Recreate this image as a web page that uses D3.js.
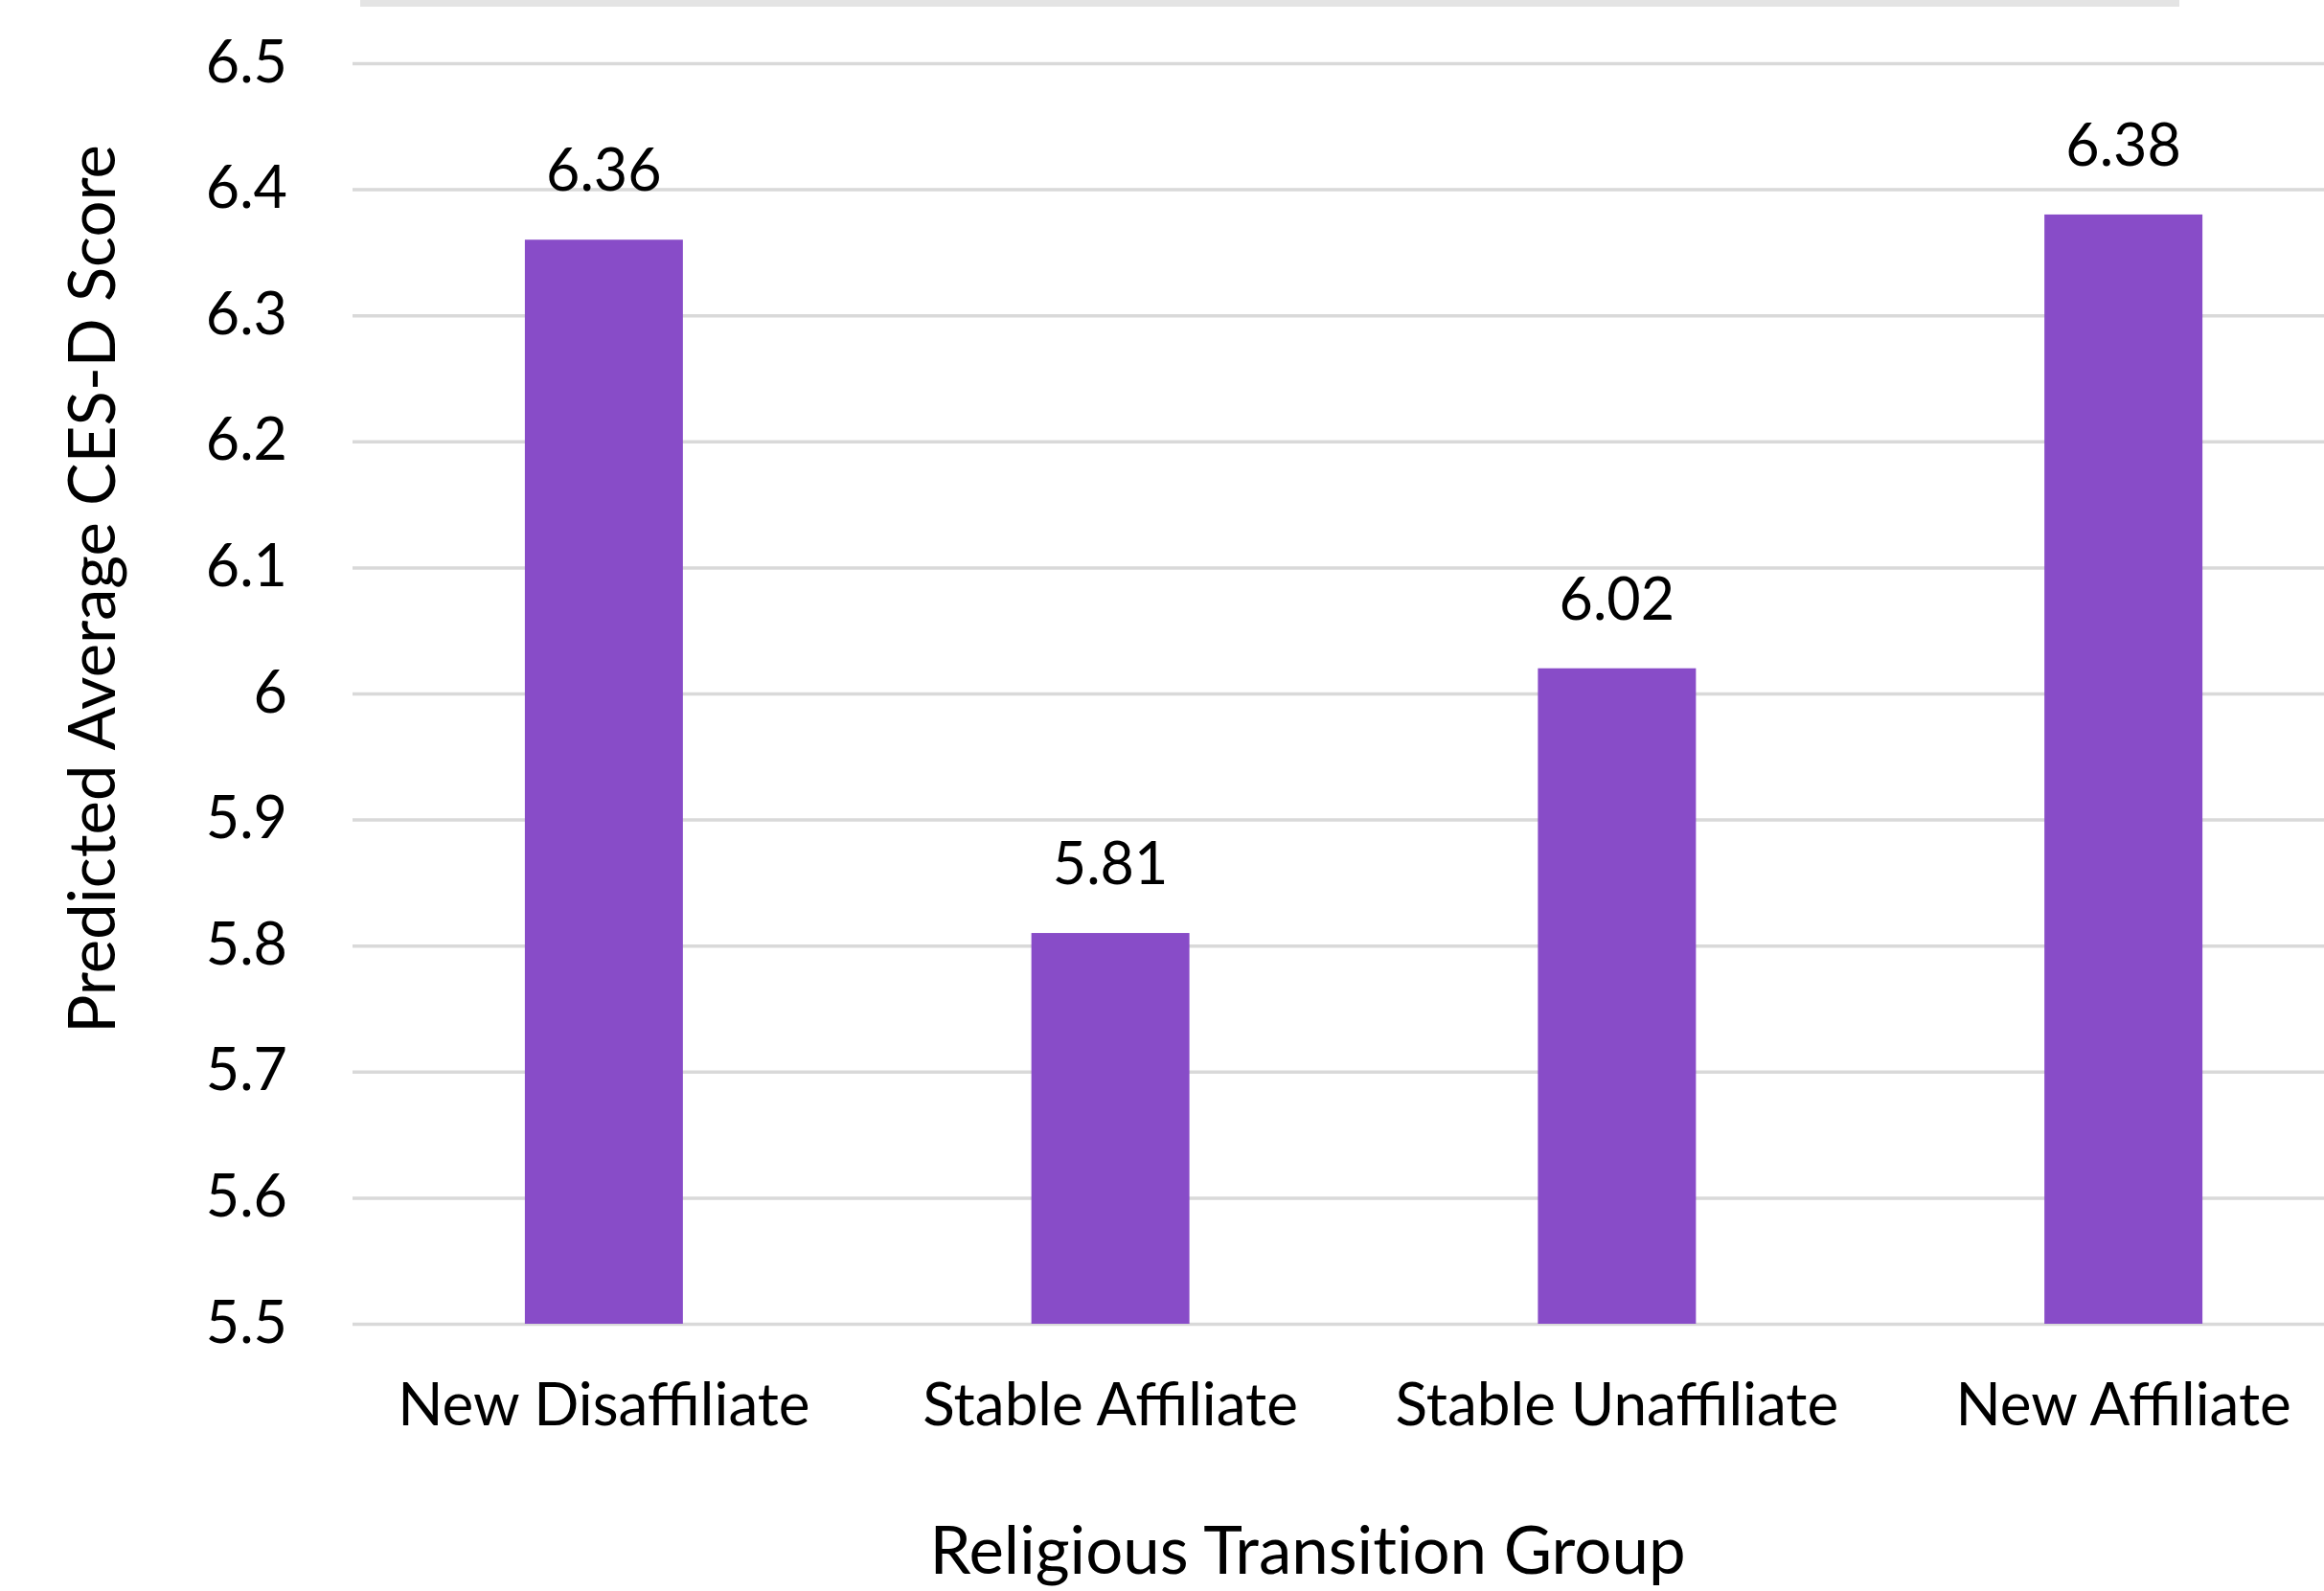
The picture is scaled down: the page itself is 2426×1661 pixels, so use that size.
<!DOCTYPE html>
<html>
<head>
<meta charset="utf-8">
<script src="https://cdn.jsdelivr.net/npm/d3@7"></script>
<style>
  html, body { margin: 0; padding: 0; background: #ffffff; }
  svg { display: block; }
  text { font-family: Lato, "Open Sans", sans-serif; fill: #000; }
</style>
</head>
<body>
<svg id="chart" width="2426" height="1661"></svg>
<script>
// ---- data ----
const categories = ["New Disaffiliate", "Stable Affiliate", "Stable Unaffiliate", "New Affiliate"];
const values = [6.36, 5.81, 6.02, 6.38];
const valueLabels = ["6.36", "5.81", "6.02", "6.38"];
const tickValues = [5.5, 5.6, 5.7, 5.8, 5.9, 6.0, 6.1, 6.2, 6.3, 6.4, 6.5];
const tickLabels = ["5.5", "5.6", "5.7", "5.8", "5.9", "6", "6.1", "6.2", "6.3", "6.4", "6.5"];
const yTitle = "Predicted Average CES-D Score";
const xTitle = "Religious Transition Group";

// ---- layout ----
const W = 2426, H = 1661;
const plotLeft = 368, plotRight = 2481, gridRight = W;
const yTop = 66, yBottom = 1382;
const barColor = "#884cc8";
const gridColor = "#d9d9d9";

const svg = d3.select("#chart");

// top band (remnant of a title box)
svg.append("rect").attr("x", 376).attr("y", 0).attr("width", 2275 - 376).attr("height", 7).attr("fill", "#e4e4e4");

const x = d3.scaleBand().domain(categories).range([366, plotRight]).paddingInner(0.688).paddingOuter(0.344);
const y = d3.scaleLinear().domain([5.5, 6.5]).range([yBottom, yTop]);

// gridlines + y tick labels via axis
const yAxis = d3.axisLeft(y)
  .tickValues(tickValues)
  .tickFormat((d, i) => tickLabels[i])
  .tickSize(-(gridRight - plotLeft))
  .tickPadding(68);

const gy = svg.append("g").attr("transform", `translate(${plotLeft},0)`).call(yAxis);
gy.select(".domain").remove();
gy.selectAll(".tick line").attr("stroke", gridColor).attr("stroke-width", 3.5);
gy.selectAll(".tick text")
  .attr("font-size", 61)
  .attr("fill", "#000")
  .attr("dy", null)
  .attr("y", 19)
  .style("font-family", "Lato, 'Open Sans', sans-serif");

// bars
svg.append("g").selectAll("rect.bar")
  .data(values)
  .join("rect")
  .attr("class", "bar")
  .attr("x", (d, i) => x(categories[i]))
  .attr("width", x.bandwidth())
  .attr("y", d => y(d))
  .attr("height", d => y(5.5) - y(d))
  .attr("fill", barColor);

// value labels
svg.append("g").selectAll("text.val")
  .data(values)
  .join("text")
  .attr("class", "val")
  .attr("x", (d, i) => x(categories[i]) + x.bandwidth() / 2)
  .attr("y", d => y(d) - 51)
  .attr("text-anchor", "middle")
  .attr("font-size", 61)
  .text((d, i) => valueLabels[i]);

// x axis category labels
const xAxis = d3.axisBottom(x).tickSize(0).tickPadding(0);
const gx = svg.append("g").attr("transform", `translate(0,${yBottom})`).call(xAxis);
gx.select(".domain").remove();
gx.selectAll(".tick text")
  .attr("font-size", 62)
  .attr("fill", "#000")
  .attr("dy", null)
  .attr("y", 1488 - yBottom)
  .style("font-family", "Lato, 'Open Sans', sans-serif");

// axis titles
svg.append("text")
  .attr("transform", `translate(120,615) rotate(-90)`)
  .attr("text-anchor", "middle")
  .attr("font-size", 67)
  .text(yTitle);

svg.append("text")
  .attr("x", 1365)
  .attr("y", 1643)
  .attr("text-anchor", "middle")
  .attr("font-size", 69)
  .style("font-variant-ligatures", "none")
  .style("font-feature-settings", "'liga' 0, 'dlig' 0")
  .text(xTitle);
</script>
</body>
</html>
